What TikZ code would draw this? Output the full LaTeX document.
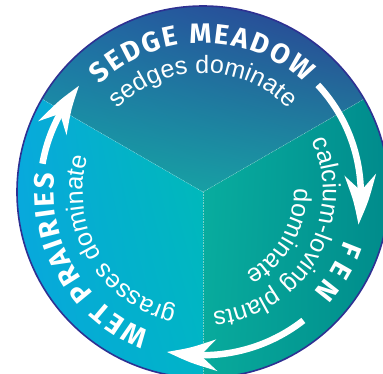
\documentclass[tikz,border=0pt]{standalone}
\usepackage{fontspec}
\setmainfont{Liberation Sans}
\newfontfamily\titlefont{Fira Sans}
\usetikzlibrary{decorations.text,arrows.meta,bending,shadings}
\definecolor{navy}{HTML}{2E3192}
\definecolor{topUL}{RGB}{33,105,165}
\definecolor{topUR}{RGB}{44,62,145}
\definecolor{topLL}{RGB}{20,168,166}
\definecolor{topLR}{RGB}{26,152,162}
\definecolor{rgtUL}{RGB}{8,174,160}
\definecolor{rgtUR}{RGB}{0,138,140}
\definecolor{rgtLL}{RGB}{8,170,156}
\definecolor{rgtLR}{RGB}{0,140,138}
\definecolor{lftUL}{RGB}{8,170,220}
\definecolor{lftUR}{RGB}{0,186,180}
\definecolor{lftLL}{RGB}{8,166,222}
\definecolor{lftLR}{RGB}{0,180,200}
\begin{document}
\begin{tikzpicture}[x=1pt,y=1pt,
  titletext/.style={decorate, decoration={text along path, text color=white,
      text align={fit to path},
      text={|\titlefont\bfseries\fontsize{28}{28}\selectfont|#1}}},
  subtext/.style={decorate, decoration={text along path, text color=white,
      text align=center,
      text={|\fontsize{25}{25}\selectfont|#1}}},
  cyclearrow/.style={white, line width=6.5pt,
      -{Stealth[length=50pt,width=31pt,inset=16pt,bend]}},
  divider/.style={white, opacity=0.45, line width=0.6pt, densely dotted}
]
\useasboundingbox (-203,-181) rectangle (180,192);
\clip (-203,-181) rectangle (180,192);
% top sector
\begin{scope}
  \clip (0,0) -- (30:186) arc[start angle=30, end angle=150, radius=186] -- cycle;
  \shade[upper left=topUL, upper right=topUR, lower left=topLL, lower right=topLR]
    (-162,0) rectangle (162,186);
\end{scope}
% right sector
\begin{scope}
  \clip (0,0) -- (30:186) arc[start angle=30, end angle=-90, radius=186] -- cycle;
  \shade[upper left=rgtUL, upper right=rgtUR, lower left=rgtLL, lower right=rgtLR]
    (0,-186) rectangle (186,93);
\end{scope}
% left sector
\begin{scope}
  \clip (0,0) -- (150:186) arc[start angle=150, end angle=270, radius=186] -- cycle;
  \shade[upper left=lftUL, upper right=lftUR, lower left=lftLL, lower right=lftLR]
    (-186,-186) rectangle (0,93);
\end{scope}
% dividers
\coordinate (c) at (0,0);
\draw[divider] (c) -- (30:186);
\draw[divider] (c) -- (150:186);
\draw[divider] (c) -- (270:186);
% rim
\draw[navy, line width=1.6pt] (c) circle[radius=186];
% arrows
\draw[cyclearrow] (43:157) arc[start angle=43, end angle=-11, radius=160];
\draw[cyclearrow] (-52:163) arc[start angle=-52, end angle=-102.5, radius=164];
\draw[cyclearrow] (170:163) arc[start angle=170, end angle=139, radius=161];
% titles
\path[titletext=SEDGE MEADOW] (134:149) arc[start angle=134, end angle=47, radius=149];
\path[titletext=FEN] (-19:149) arc[start angle=-19, end angle=-42, radius=149];
\path[titletext=WET PRAIRIES] (249:149) arc[start angle=249, end angle=173, radius=149];
% descriptions
\path[subtext=sedges dominate] (180:119) arc[start angle=180, end angle=0, radius=119];
\path[subtext=calcium-loving plants] (60:120) arc[start angle=60, end angle=-120, radius=120];
\path[subtext=dominate] (60:91) arc[start angle=60, end angle=-120, radius=91];
\path[subtext=grasses dominate] (300:120) arc[start angle=300, end angle=120, radius=120];
\end{tikzpicture}
\end{document}
